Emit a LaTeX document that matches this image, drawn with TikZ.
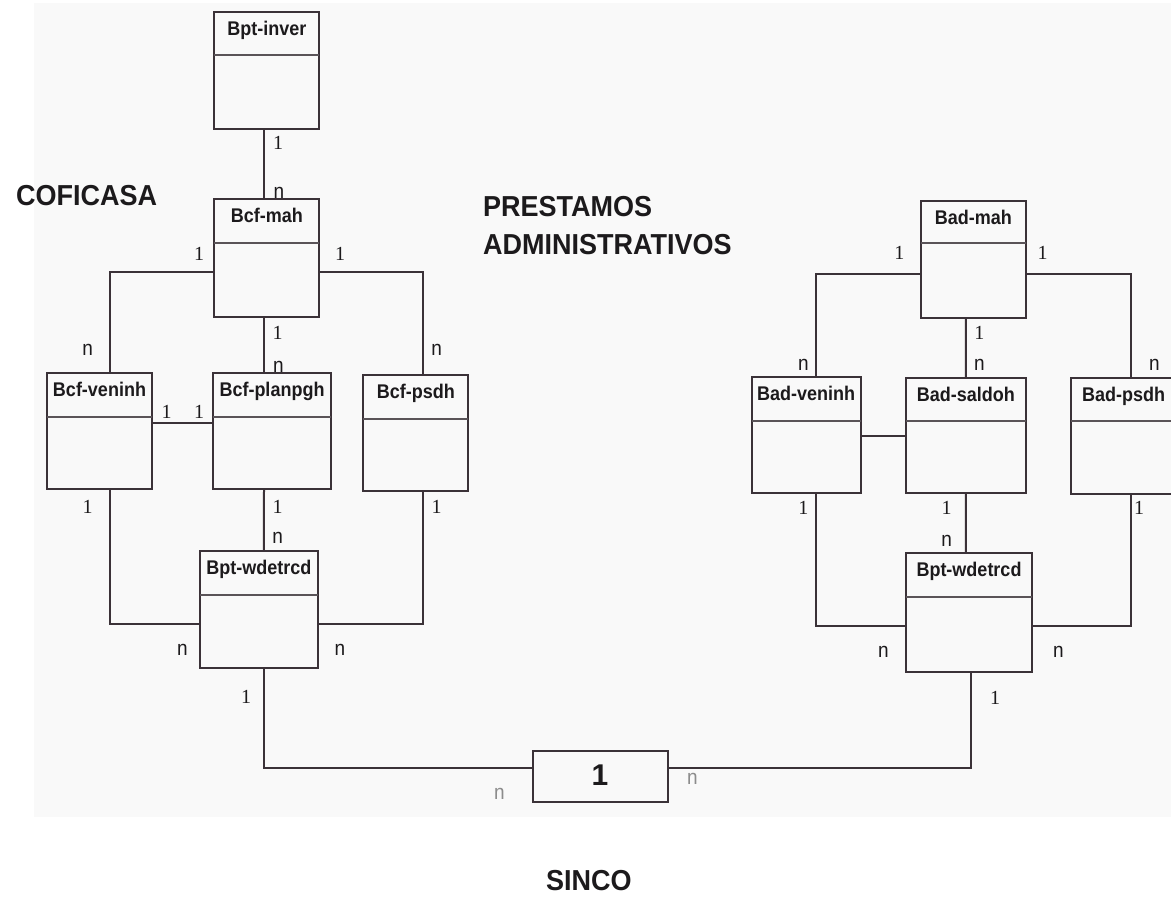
\documentclass[tikz,border=0pt]{standalone}
\usepackage{fontspec}
\setmainfont{Liberation Sans}
\newfontfamily\numfont{Liberation Serif}
\definecolor{ink}{HTML}{3B3238}
\definecolor{txt}{HTML}{1C1A1C}
\definecolor{panel}{HTML}{F9F9F9}
\definecolor{faint}{HTML}{8C8C8C}
\definecolor{rule}{HTML}{5A5458}

% class box: name, left, top, right, bottom, divider y, title
\newcommand\umlclass[7]{%
  \node[classbox, minimum width={(#4-#2)*1pt}, minimum height={(#5-#3)*1pt}]
    (#1) at ({(#2+#4)/2},{(#3+#5)/2}) {};
  \draw[divider] (#2,#6) -- (#4,#6);
  \node[classname] (#1-name) at ({(#2+#4)/2},{#3+23.5}) {#7};
}

\begin{document}
\begin{tikzpicture}[x=1pt,y=-1pt,
  classbox/.style={draw=ink, line width=2pt, rectangle, inner sep=0pt, outer sep=0pt},
  divider/.style={draw=rule, line width=2pt},
  classname/.style={anchor=base, inner sep=0pt, text=txt, yscale=1.1, font=\bfseries\fontsize{18}{20}\selectfont},
  conn/.style={draw=ink, line width=2pt},
  one/.style={inner sep=0pt, text=txt, font=\numfont\fontsize{20}{22}\selectfont},
  many/.style={inner sep=0pt, text=txt, yscale=1.1, font=\fontsize{19}{21}\selectfont},
  manyfaint/.style={many, text=faint},
  heading/.style={anchor=base west, inner sep=0pt, text=txt, yscale=1.07, font=\bfseries\fontsize{27}{30}\selectfont}]

\clip (0,0) rectangle (1171,898);
\fill[white] (0,0) rectangle (1171,898);
\fill[panel] (34,3) rectangle (1180,817);

% ---- COFICASA group
\umlclass{inver}{214.3}{11.7}{319.3}{129.3}{55}{Bpt-inver}
\umlclass{cfmah}{214.3}{199.3}{319.3}{316.7}{243.3}{Bcf-mah}
\umlclass{cfven}{47.3}{373}{151.7}{489}{416.7}{Bcf-veninh}
\umlclass{cfplan}{213.3}{373}{330.7}{489}{416.7}{Bcf-planpgh}
\umlclass{cfpsd}{363.3}{375}{468.3}{490.7}{419}{Bcf-psdh}
\umlclass{cfwdet}{200}{551}{317.7}{668.3}{595}{Bpt-wdetrcd}

% ---- PRESTAMOS ADMINISTRATIVOS group
\umlclass{admah}{920.7}{200.7}{1026}{318.3}{243.3}{Bad-mah}
\umlclass{adven}{751.7}{376.7}{860.7}{493.3}{420.7}{Bad-veninh}
\umlclass{adsal}{906}{378.3}{1025.7}{493.3}{420.7}{Bad-saldoh}
\umlclass{adpsd}{1071}{378.3}{1176}{494}{420.7}{Bad-psdh}
\umlclass{adwdet}{905.7}{553.3}{1032.3}{671.7}{597.3}{Bpt-wdetrcd}

% ---- SINCO link box
\node[classbox, minimum width=135.6pt, minimum height=50.7pt] (sinco) at (600.5,776.3) {};
\node[inner sep=0pt, text=txt, font=\bfseries\fontsize{30}{32}\selectfont] (sincoone) at (600,775) {1};

% ---- connectors, COFICASA side
\draw[conn] ([xshift=-2.5pt]inver.south) -- ([xshift=-2.5pt]cfmah.north);
\draw[conn] ([yshift=-14pt]cfmah.west) -| ([xshift=10.5pt]cfven.north);
\draw[conn] ([yshift=-14pt]cfmah.east) -| ([xshift=7.5pt]cfpsd.north);
\draw[conn] ([xshift=-2.8pt]cfmah.south) -- ([xshift=-8pt]cfplan.north);
\draw[conn] ([yshift=7.7pt]cfven.east) -- ([yshift=7.7pt]cfplan.west);
\draw[conn] ([xshift=10.5pt]cfven.south) |- ([yshift=-14.3pt]cfwdet.west);
\draw[conn] ([xshift=-8pt]cfplan.south) -- ([xshift=5.1pt]cfwdet.north);
\draw[conn] ([xshift=7.5pt]cfpsd.south) |- ([yshift=-14.3pt]cfwdet.east);
\draw[conn] ([xshift=5.1pt]cfwdet.south) |- ([yshift=8.6pt]sinco.west);

% ---- connectors, PRESTAMOS side
\draw[conn] ([yshift=-14.5pt]admah.west) -| ([xshift=9.8pt]adven.north);
\draw[conn] ([yshift=-14.5pt]admah.east) -| ([xshift=7.5pt]adpsd.north);
\draw[conn] ([xshift=-7.4pt]admah.south) -- ([xshift=0pt]adsal.north);
\draw[conn] ([yshift=-1pt]adven.east) -- ([yshift=-0.2pt]adsal.west);
\draw[conn] ([xshift=9.8pt]adven.south) |- ([yshift=-13.5pt]adwdet.west);
\draw[conn] ([xshift=0pt]adsal.south) -- ([xshift=-3.1pt]adwdet.north);
\draw[conn] ([xshift=7.5pt]adpsd.south) |- ([yshift=-13.5pt]adwdet.east);
\draw[conn] ([xshift=2pt]adwdet.south) |- ([yshift=8pt]sinco.east);

% ---- cardinalities, COFICASA side
\node[one]  (c1)  at (278,143)   {1};
\node[many] (c2)  at (279,193)   {n};
\node[one]  (c3)  at (199,254)   {1};
\node[one]  (c4)  at (340,254)   {1};
\node[many] (c5)  at (87.7,350)  {n};
\node[many] (c6)  at (436.7,350) {n};
\node[one]  (c7)  at (277.7,332.7) {1};
\node[many] (c8)  at (278.3,366.7) {n};
\node[one]  (c9)  at (166.7,411.7) {1};
\node[one]  (c10) at (199,411.7) {1};
\node[one]  (c11) at (87.7,506.7) {1};
\node[one]  (c12) at (277.7,507) {1};
\node[one]  (c13) at (436.7,507) {1};
\node[many] (c14) at (277.7,538.3) {n};
\node[many] (c15) at (182.3,650) {n};
\node[many] (c16) at (340,650) {n};
\node[one]  (c17) at (246,697.3) {1};

% ---- cardinalities at the link box
\node[manyfaint] (s1) at (499.3,794) {n};
\node[manyfaint] (s2) at (692.3,779.3) {n};

% ---- cardinalities, PRESTAMOS side
\node[one]  (p1)  at (899.3,253.3) {1};
\node[one]  (p2)  at (1042.7,253.3) {1};
\node[one]  (p3)  at (979.3,332.7) {1};
\node[many] (p4)  at (979.3,365) {n};
\node[many] (p5)  at (803.3,365) {n};
\node[many] (p6)  at (1154.3,365) {n};
\node[one]  (p7)  at (803.3,508.3) {1};
\node[one]  (p8)  at (946.7,508.3) {1};
\node[one]  (p9)  at (1139,508.3) {1};
\node[many] (p10) at (946.7,540.7) {n};
\node[many] (p11) at (883.3,651.7) {n};
\node[many] (p12) at (1058.3,651.7) {n};
\node[one]  (p13) at (995,698.3) {1};

% ---- group headings
\node[heading] (coficasa) at (16,205.7) {COFICASA};
\node[heading] (prest1) at (483,216.7) {PRESTAMOS};
\node[heading] (prest2) at (483,254) {ADMINISTRATIVOS};
\node[heading, anchor=base] (sincotitle) at (588.8,890) {SINCO};
\end{tikzpicture}
\end{document}
